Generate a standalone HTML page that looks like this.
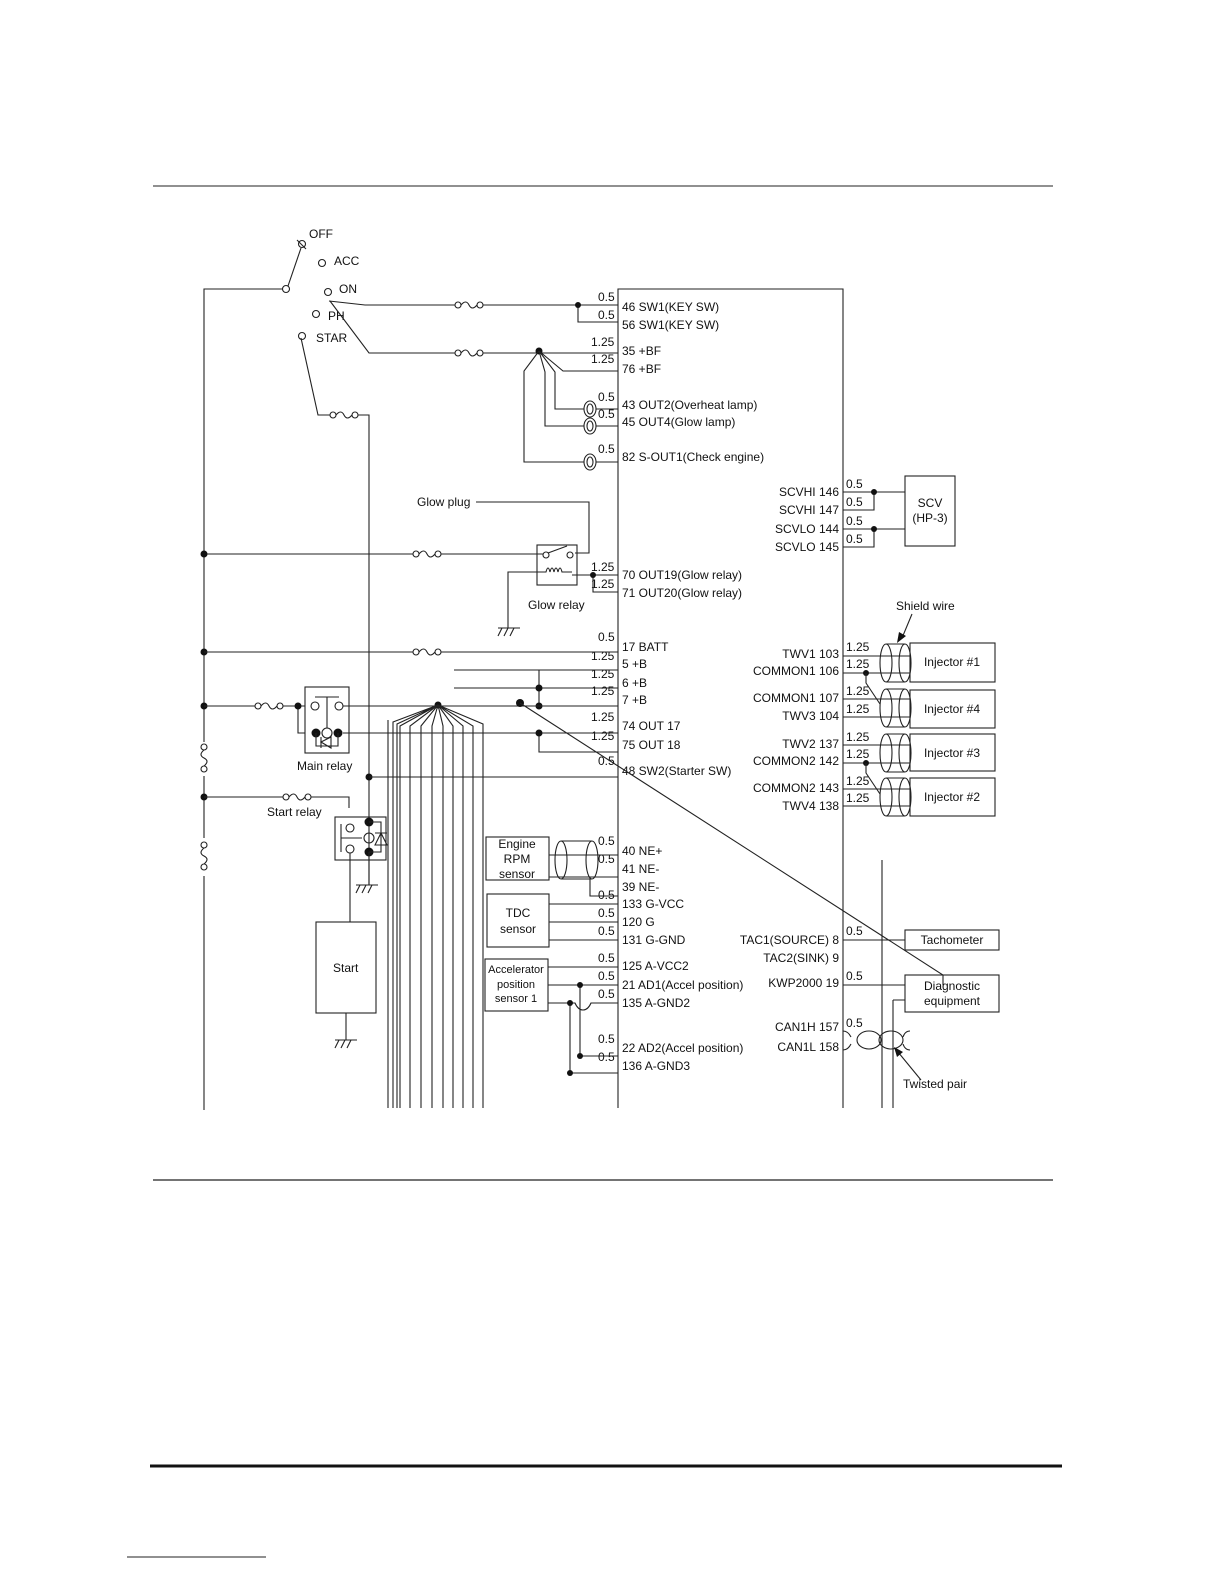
<!DOCTYPE html>
<html><head><meta charset="utf-8"><style>
html,body{margin:0;padding:0;background:#fff;}
svg{display:block;}
text{font-family:"Liberation Sans",sans-serif;font-size:12px;fill:#111;}
.s{stroke:#222;stroke-width:1.1;fill:none;}
.d{fill:#111;}
</style></head><body>
<svg width="1224" height="1584" viewBox="0 0 1224 1584" xmlns="http://www.w3.org/2000/svg">
<defs>
<g id="fuse"><circle cx="3" cy="0" r="3" class="s"/><path d="M6 0 q5 -6 8 0 q3 6 8 0" class="s"/><circle cx="25" cy="0" r="3" class="s"/></g>
<g id="vfuse"><circle cx="0" cy="3" r="3" class="s"/><path d="M0 6 q-6 5 0 8 q6 3 0 8" class="s"/><circle cx="0" cy="25" r="3" class="s"/></g>
<g id="gnd"><line x1="-10" y1="0" x2="12" y2="0" class="s"/><line x1="-6" y1="0" x2="-10" y2="8" class="s"/><line x1="0" y1="0" x2="-4" y2="8" class="s"/><line x1="6" y1="0" x2="2" y2="8" class="s"/></g>
<g id="lamp"><ellipse cx="0" cy="0" rx="6" ry="8" class="s"/><ellipse cx="0" cy="0" rx="3" ry="5" class="s"/></g>
</defs>
<!-- rules -->
<line x1="153" y1="186" x2="1053" y2="186" stroke="#222" stroke-width="1"/>
<line x1="153" y1="1180" x2="1053" y2="1180" stroke="#222" stroke-width="1.2"/>
<line x1="150" y1="1466" x2="1062" y2="1466" stroke="#111" stroke-width="3"/>
<line x1="127" y1="1557" x2="266" y2="1557" stroke="#222" stroke-width="1"/>

<!-- ECU box -->
<path d="M618 1108 V289 H843 V1108" class="s"/>
<line x1="882" y1="860" x2="882" y2="1108" class="s"/>
<line x1="893" y1="1000" x2="893" y2="1108" class="s"/>

<!-- key switch -->
<path d="M204 1110 V289 H283" class="s"/>
<circle cx="286" cy="289" r="3.5" class="s"/>
<line x1="288" y1="286" x2="301" y2="248" class="s"/>
<circle cx="302" cy="244" r="3.5" class="s"/><line x1="297" y1="240" x2="306" y2="249" class="s"/>
<text x="309" y="238">OFF</text>
<circle cx="322" cy="263" r="3.5" class="s"/><text x="334" y="265">ACC</text>
<circle cx="328" cy="292" r="3.5" class="s"/><text x="339" y="293">ON</text>
<circle cx="316" cy="314" r="3.5" class="s"/><text x="328" y="320">PH</text>
<circle cx="302" cy="336" r="3.5" class="s"/><text x="316" y="342">STAR</text>
<path d="M329 301 L365 305 H455" class="s"/><use href="#fuse" x="455" y="305"/>
<path d="M483 305 H618 M578 305 V322 H618" class="s"/><circle cx="578" cy="305" r="3" class="d"/>
<path d="M330 301 L369 353 H455" class="s"/><use href="#fuse" x="455" y="353"/>
<path d="M483 353 H618" class="s"/><circle cx="539" cy="351" r="3.5" class="d"/>
<path d="M539 351 L563 371 H618 M539 351 L555 372 V409 H584 M539 351 L545 372 V426 H584 M539 351 L524 371 V462 H584" class="s"/>
<use href="#lamp" x="590" y="409"/><use href="#lamp" x="590" y="426"/><use href="#lamp" x="590" y="462"/>
<path d="M596 409 H618 M596 426 H618 M596 462 H618" class="s"/>
<path d="M301 338 L318 415 H330" class="s"/><use href="#fuse" x="330" y="415"/>
<path d="M358 415 H369 V885" class="s"/>

<!-- left pin labels -->
<g>
<text x="598" y="301">0.5</text><text x="622" y="311">46 SW1(KEY SW)</text>
<text x="598" y="319">0.5</text><text x="622" y="329">56 SW1(KEY SW)</text>
<text x="591" y="346">1.25</text><text x="622" y="355">35 +BF</text>
<text x="591" y="363">1.25</text><text x="622" y="373">76 +BF</text>
<text x="598" y="401">0.5</text><text x="622" y="409">43 OUT2(Overheat lamp)</text>
<text x="598" y="418">0.5</text><text x="622" y="426">45 OUT4(Glow lamp)</text>
<text x="598" y="453">0.5</text><text x="622" y="461">82 S-OUT1(Check engine)</text>
<text x="591" y="571">1.25</text><text x="622" y="579">70 OUT19(Glow relay)</text>
<text x="591" y="588">1.25</text><text x="622" y="597">71 OUT20(Glow relay)</text>
<text x="598" y="641">0.5</text><text x="622" y="651">17 BATT</text>
<text x="591" y="660">1.25</text><text x="622" y="668">5 +B</text>
<text x="591" y="678">1.25</text><text x="622" y="687">6 +B</text>
<text x="591" y="695">1.25</text><text x="622" y="704">7 +B</text>
<text x="591" y="721">1.25</text><text x="622" y="730">74 OUT 17</text>
<text x="591" y="740">1.25</text><text x="622" y="749">75 OUT 18</text>
<text x="598" y="765">0.5</text><text x="622" y="775">48 SW2(Starter SW)</text>
<text x="598" y="845">0.5</text><text x="622" y="855">40 NE+</text>
<text x="598" y="863">0.5</text><text x="622" y="873">41 NE-</text>
<text x="622" y="891">39 NE-</text>
<text x="598" y="899">0.5</text><text x="622" y="908">133 G-VCC</text>
<text x="598" y="917">0.5</text><text x="622" y="926">120 G</text>
<text x="598" y="935">0.5</text><text x="622" y="944">131 G-GND</text>
<text x="598" y="962">0.5</text><text x="622" y="970">125 A-VCC2</text>
<text x="598" y="980">0.5</text><text x="622" y="989">21 AD1(Accel position)</text>
<text x="598" y="998">0.5</text><text x="622" y="1007">135 A-GND2</text>
<text x="598" y="1043">0.5</text><text x="622" y="1052">22 AD2(Accel position)</text>
<text x="598" y="1061">0.5</text><text x="622" y="1070">136 A-GND3</text>
</g>

<!-- glow relay -->
<text x="417" y="506">Glow plug</text>
<path d="M476 502 H589 V553 H575" class="s"/>
<path d="M204 554 H413" class="s"/><use href="#fuse" x="413" y="554"/>
<path d="M441 554 H543" class="s"/>
<rect x="537" y="545" width="40" height="40" class="s"/>
<circle cx="546" cy="555" r="3" class="s"/><circle cx="570" cy="555" r="3" class="s"/>
<line x1="548" y1="553" x2="567" y2="546" class="s"/>
<path d="M542 572 H546 q2 -8 4 0 q2 -8 4 0 q2 -8 4 0 q2 -8 4 0 H572" class="s"/>
<path d="M542 572 H508 V628" class="s"/><use href="#gnd" x="508" y="628"/>
<path d="M572 575 H618 M593 575 V592 H618" class="s"/><circle cx="593" cy="575" r="3" class="d"/>
<text x="528" y="609">Glow relay</text>

<!-- BATT / +B -->
<circle cx="204" cy="554" r="3.5" class="d"/><circle cx="204" cy="652" r="3.5" class="d"/>
<circle cx="204" cy="706" r="3.5" class="d"/><circle cx="204" cy="797" r="3.5" class="d"/>
<path d="M204 652 H413" class="s"/><use href="#fuse" x="413" y="652"/><path d="M441 652 H618" class="s"/>
<path d="M454 670 H618 M454 688 H618 M539 670 V706" class="s"/>
<circle cx="539" cy="688" r="3.5" class="d"/><circle cx="539" cy="706" r="3.5" class="d"/>
<path d="M204 706 H255" class="s"/><use href="#fuse" x="255" y="706"/>
<path d="M283 706 H305 M298 706 V733 H305" class="s"/><circle cx="298" cy="706" r="3.5" class="d"/>
<rect x="305" y="687" width="44" height="66" class="s"/>
<circle cx="315" cy="706" r="4" class="s"/><circle cx="339" cy="706" r="4" class="s"/>
<line x1="315" y1="697" x2="339" y2="697" class="s"/><line x1="327" y1="697" x2="327" y2="728" class="s"/>
<circle cx="316" cy="733" r="4.5" class="d"/><circle cx="338" cy="733" r="4.5" class="d"/><circle cx="327" cy="733" r="5" class="s"/>
<path d="M316 733 V746 H338 V733 M321 737 L321 748 M321 742 L331 737 L331 748 Z" class="s"/>
<text x="297" y="770">Main relay</text>
<path d="M343 706 H618 M343 733 H618 M539 733 V752 H618" class="s"/>
<circle cx="539" cy="733" r="3.5" class="d"/>
<circle cx="438" cy="705" r="3.5" class="d"/>
<circle cx="520" cy="703" r="4" class="d"/>
<path d="M520 703 L943 975 V985" class="s"/>
<circle cx="369" cy="777" r="3.5" class="d"/><path d="M369 777 H618" class="s"/>

<!-- bundle -->
<path d="M438 705 L393 722 V1108 M438 705 L397 724 V1108 M438 705 L400 726 V1108 M438 705 L410 726 V1108 M438 705 L421 726 V1108 M438 705 L432 726 V1108 M438 705 L443 726 V1108 M438 705 L453 726 V1108 M438 705 L463 726 V1108 M438 705 L473 726 V1108 M438 705 L483 724 V1108 M388 720 V1108" class="s"/>

<!-- vertical fuses left -->
<rect x="198" y="742" width="12" height="34" fill="#fff"/><use href="#vfuse" x="204" y="744"/>
<rect x="198" y="838" width="12" height="38" fill="#fff"/><use href="#vfuse" x="204" y="842"/>

<!-- start relay -->
<path d="M204 797 H283" class="s"/><use href="#fuse" x="283" y="797"/>
<path d="M311 797 H349 V808" class="s"/>
<text x="267" y="816">Start relay</text>
<rect x="335" y="817" width="51" height="43" class="s"/>
<circle cx="350" cy="828" r="4" class="s"/><circle cx="350" cy="849" r="4" class="s"/>
<line x1="341" y1="824" x2="341" y2="852" class="s"/><line x1="341" y1="838" x2="362" y2="838" class="s"/>
<circle cx="369" cy="838" r="5" class="s"/>
<circle cx="369" cy="822" r="4.5" class="d"/><circle cx="369" cy="852" r="4.5" class="d"/>
<path d="M369 822 H381 V852 H369 M375 845 L381 833 L387 845 Z M375 833 H387" class="s"/>
<path d="M350 853 V922 M369 852 V885" class="s"/>
<use href="#gnd" x="366" y="885"/>
<rect x="316" y="922" width="60" height="91" class="s"/>
<text x="333" y="972">Start</text>
<path d="M346 1013 V1040" class="s"/><use href="#gnd" x="345" y="1040"/>

<!-- sensors -->
<rect x="486" y="837" width="63" height="43" class="s"/>
<text x="517" y="848" text-anchor="middle">Engine</text><text x="517" y="863" text-anchor="middle">RPM</text><text x="517" y="878" text-anchor="middle">sensor</text>
<path d="M549 855 H618 M549 877 H618 M590 877 V896 H618" class="s"/>
<ellipse cx="561" cy="860" rx="6" ry="19" class="s"/><ellipse cx="592" cy="860" rx="6" ry="19" class="s"/>
<path d="M561 841 H592 M561 879 H592" class="s"/>
<rect x="487" y="894" width="62" height="53" class="s"/>
<text x="518" y="917" text-anchor="middle">TDC</text><text x="518" y="933" text-anchor="middle">sensor</text>
<path d="M549 904 H618 M549 922 H618 M549 940 H618" class="s"/>
<rect x="485" y="959" width="63" height="52" class="s"/>
<text x="516" y="973" text-anchor="middle" style="font-size:11px">Accelerator</text><text x="516" y="988" text-anchor="middle" style="font-size:11px">position</text><text x="516" y="1002" text-anchor="middle" style="font-size:11px">sensor 1</text>
<path d="M548 967 H618 M548 985 H618 M548 1003 H575 q3 7 8 7 q5 0 8 -7 H618" class="s"/>
<path d="M580 985 V1056 H618 M570 1003 V1073 H618" class="s"/>
<circle cx="580" cy="985" r="3" class="d"/><circle cx="570" cy="1003" r="3" class="d"/>
<circle cx="580" cy="1056" r="3" class="d"/><circle cx="570" cy="1073" r="3" class="d"/>

<!-- right pins -->
<g text-anchor="end">
<text x="839" y="496">SCVHI 146</text><text x="839" y="514">SCVHI 147</text>
<text x="839" y="533">SCVLO 144</text><text x="839" y="551">SCVLO 145</text>
<text x="839" y="658">TWV1 103</text><text x="839" y="675">COMMON1 106</text>
<text x="839" y="702">COMMON1 107</text><text x="839" y="720">TWV3 104</text>
<text x="839" y="748">TWV2 137</text><text x="839" y="765">COMMON2 142</text>
<text x="839" y="792">COMMON2 143</text><text x="839" y="810">TWV4 138</text>
<text x="839" y="944">TAC1(SOURCE) 8</text><text x="839" y="962">TAC2(SINK) 9</text>
<text x="839" y="987">KWP2000 19</text>
<text x="839" y="1031">CAN1H 157</text><text x="839" y="1051">CAN1L 158</text>
</g>
<text x="846" y="488">0.5</text><text x="846" y="506">0.5</text><text x="846" y="525">0.5</text><text x="846" y="543">0.5</text>
<path d="M843 492 H905 M843 510 H874 V492 M843 529 H905 M843 547 H874 V529" class="s"/>
<circle cx="874" cy="492" r="3" class="d"/><circle cx="874" cy="529" r="3" class="d"/>
<rect x="905" y="476" width="50" height="70" class="s"/>
<text x="930" y="507" text-anchor="middle">SCV</text><text x="930" y="522" text-anchor="middle">(HP-3)</text>

<text x="896" y="610">Shield wire</text>
<path d="M912 614 L902 638" class="s"/><path d="M897 643 L899 632 L906 636 Z" class="d"/>
<g>
<text x="846" y="651">1.25</text><text x="846" y="668">1.25</text>
<text x="846" y="695">1.25</text><text x="846" y="713">1.25</text>
<text x="846" y="741">1.25</text><text x="846" y="758">1.25</text>
<text x="846" y="785">1.25</text><text x="846" y="802">1.25</text>
</g>
<path d="M843 656 H910 M843 673 H910 M843 699 H910 M843 717 H910 M843 745 H910 M843 763 H910 M843 789 H910 M843 806 H910" class="s"/>
<circle cx="866" cy="673" r="3" class="d"/><circle cx="866" cy="763" r="3" class="d"/>
<path d="M866 673 V683 L880 704 M866 763 V773 L880 794" class="s"/>
<g class="s">
<ellipse cx="886" cy="663" rx="6" ry="19"/><ellipse cx="905" cy="663" rx="6" ry="19"/><path d="M886 644 H905 M886 682 H905"/>
<ellipse cx="886" cy="708" rx="6" ry="19"/><ellipse cx="905" cy="708" rx="6" ry="19"/><path d="M886 689 H905 M886 727 H905"/>
<ellipse cx="886" cy="753" rx="6" ry="19"/><ellipse cx="905" cy="753" rx="6" ry="19"/><path d="M886 734 H905 M886 772 H905"/>
<ellipse cx="886" cy="797" rx="6" ry="19"/><ellipse cx="905" cy="797" rx="6" ry="19"/><path d="M886 778 H905 M886 816 H905"/>
</g>
<rect x="910" y="643" width="85" height="39" class="s"/><text x="952" y="666" text-anchor="middle">Injector #1</text>
<rect x="910" y="690" width="85" height="38" class="s"/><text x="952" y="713" text-anchor="middle">Injector #4</text>
<rect x="910" y="734" width="85" height="37" class="s"/><text x="952" y="757" text-anchor="middle">Injector #3</text>
<rect x="910" y="778" width="85" height="38" class="s"/><text x="952" y="801" text-anchor="middle">Injector #2</text>

<text x="846" y="935">0.5</text>
<path d="M843 940 H905" class="s"/>
<rect x="905" y="930" width="94" height="20" class="s"/><text x="952" y="944" text-anchor="middle">Tachometer</text>
<text x="846" y="980">0.5</text>
<path d="M843 985 H905 M893 1000 H905" class="s"/>
<rect x="905" y="975" width="94" height="37" class="s"/>
<text x="952" y="990" text-anchor="middle">Diagnostic</text><text x="952" y="1005" text-anchor="middle">equipment</text>
<text x="846" y="1027">0.5</text>
<g class="s">
<ellipse cx="869" cy="1040" rx="12" ry="9"/><ellipse cx="891" cy="1040" rx="12" ry="9"/>
<path d="M843 1031 q5 0 8 6 M843 1050 q5 0 8 -6 M910 1031 q-5 0 -7 6 M910 1050 q-5 0 -7 -6"/>
</g>
<path d="M921 1080 L898 1052" class="s"/><path d="M894 1047 L903 1052 L897 1057 Z" class="d"/>
<text x="903" y="1088">Twisted pair</text>
</svg>
</body></html>
